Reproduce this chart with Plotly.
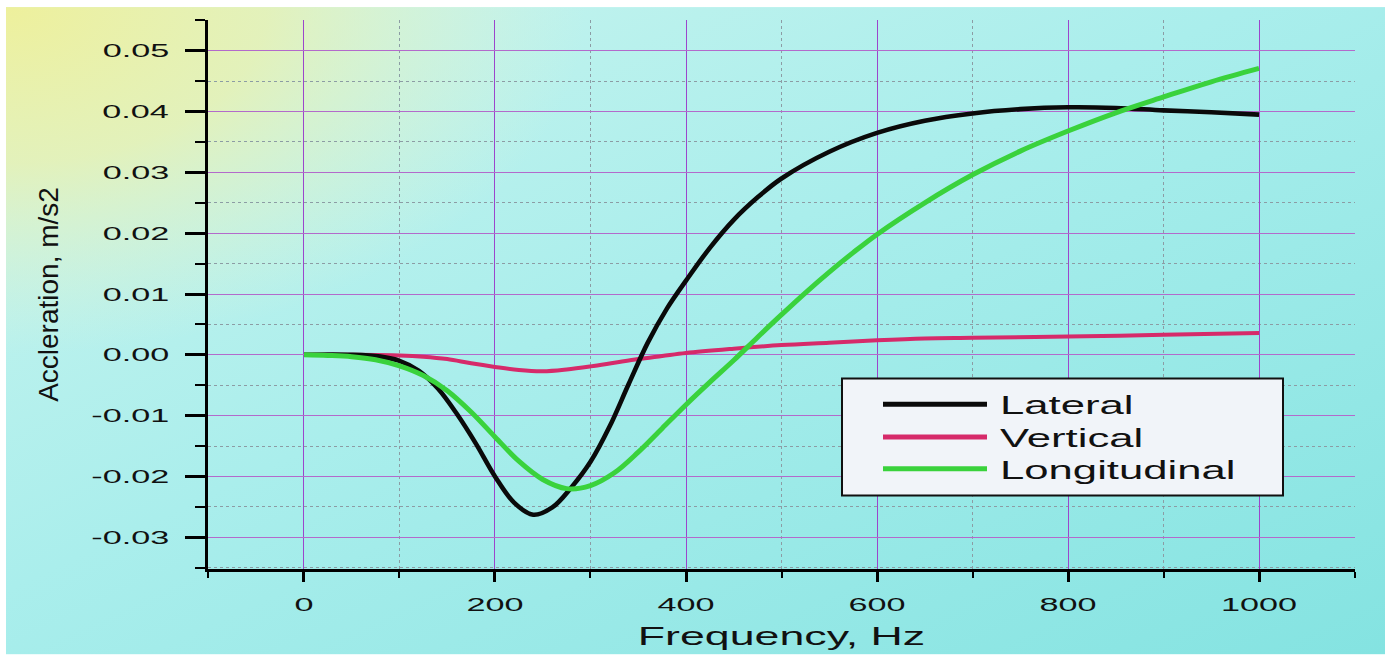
import base64
import plotly.graph_objects as go

# ---- data -------------------------------------------------------------
lateral_hz = [0, 50, 80, 100, 120, 140, 160, 180, 200, 220, 240, 260, 280, 300,
              320, 340, 360, 380, 400, 425, 450, 475, 500, 550, 600, 650, 700,
              750, 800, 850, 900, 950, 1000]
lateral_acc = [0.0, 0.0, -0.0003, -0.0010, -0.0026, -0.0055, -0.0097, -0.0146,
               -0.0200, -0.0243, -0.0263, -0.0251, -0.0218, -0.0176, -0.0118,
               -0.0048, 0.0020, 0.0076, 0.0122, 0.0176, 0.0222, 0.0259, 0.0290,
               0.0334, 0.0365, 0.0385, 0.0397, 0.0404, 0.0407, 0.0406, 0.0402,
               0.0399, 0.0395]

vertical_hz = [0, 50, 100, 125, 150, 175, 200, 225, 250, 275, 300, 325, 350,
               375, 400, 450, 500, 550, 600, 650, 700, 800, 900, 1000]
vertical_acc = [0.0, 0.0, -0.0001, -0.0003, -0.0007, -0.0014, -0.0020, -0.0025,
                -0.0027, -0.0024, -0.0019, -0.0013, -0.0007, -0.0002, 0.0003,
                0.0010, 0.0016, 0.0020, 0.0024, 0.0027, 0.0028, 0.0030, 0.0033,
                0.0036]

longitudinal_hz = [0, 25, 50, 75, 100, 125, 150, 175, 200, 225, 250, 275, 300,
                   325, 350, 375, 400, 425, 450, 475, 500, 525, 550, 575, 600,
                   650, 700, 750, 800, 850, 900, 950, 1000]
longitudinal_acc = [0.0, -0.0001, -0.0003, -0.0008, -0.0018, -0.0034, -0.0059,
                    -0.0094, -0.0135, -0.0175, -0.0205, -0.0220, -0.0215,
                    -0.0194, -0.0160, -0.0121, -0.0082, -0.0045, -0.0009,
                    0.0029, 0.0066, 0.0102, 0.0136, 0.0168, 0.0198, 0.0250,
                    0.0296, 0.0335, 0.0368, 0.0398, 0.0424, 0.0449, 0.0471]

series_names = ["Lateral", "Vertical", "Longitudinal"]
series_colors = ["#0a0a0a", "#d62a6a", "#3ad23c"]

x_tick_vals = [0, 200, 400, 600, 800, 1000]
x_tick_text = ["0", "200", "400", "600", "800", "1000"]
y_tick_vals = [-0.03, -0.02, -0.01, 0.0, 0.01, 0.02, 0.03, 0.04, 0.05]
y_tick_text = ["-0.03", "-0.02", "-0.01", "0.00", "0.01", "0.02", "0.03",
               "0.04", "0.05"]

# ---- figure geometry ---------------------------------------------------
W, H = 1385, 659
L, R, T, B = 208, 30, 20, 86
PW, PH = W - L - R, H - T - B


def px_x(p):
    return (p - L) / PW


def px_y(p):
    return (H - B - p) / PH


FONT = "Arial, 'Liberation Sans', sans-serif"

# soft yellow-to-cyan backdrop
bg_svg = """<svg xmlns="http://www.w3.org/2000/svg" width="1379" height="652"
 viewBox="0 0 1379 652" preserveAspectRatio="none">
<defs>
<linearGradient id="base" x1="0" y1="0" x2="1" y2="1">
<stop offset="0" stop-color="#cdf5ee"/>
<stop offset="0.45" stop-color="#aaeeec"/>
<stop offset="1" stop-color="#84e3e1"/>
</linearGradient>
<radialGradient id="warm" cx="0" cy="0" r="1" gradientUnits="userSpaceOnUse"
 gradientTransform="scale(580,350)">
<stop offset="0" stop-color="#eef09c" stop-opacity="1"/>
<stop offset="0.45" stop-color="#e8f1b2" stop-opacity="0.85"/>
<stop offset="1" stop-color="#dff4d6" stop-opacity="0"/>
</radialGradient>
</defs>
<rect width="1379" height="652" fill="url(#base)"/>
<rect width="1379" height="652" fill="url(#warm)"/>
</svg>"""
bg_uri = "data:image/svg+xml;base64," + base64.b64encode(bg_svg.encode()).decode()

fig = go.Figure()

traces = [
    (vertical_hz, vertical_acc, 1, 4.0),
    (lateral_hz, lateral_acc, 0, 4.6),
    (longitudinal_hz, longitudinal_acc, 2, 5.0),
]
for xs, ys, idx, width in traces:
    fig.add_trace(go.Scatter(
        x=xs, y=ys, mode="lines", name=series_names[idx],
        line=dict(color=series_colors[idx], width=width, shape="spline",
                  smoothing=1.0),
        showlegend=False,
    ))

# legend panel
leg_x0, leg_x1, leg_y0, leg_y1 = 842, 1283, 381, 499
shapes = [dict(type="rect", xref="paper", yref="paper",
               x0=px_x(leg_x0), x1=px_x(leg_x1),
               y0=px_y(leg_y1), y1=px_y(leg_y0),
               fillcolor="#f1f4f9", line=dict(color="#111111", width=2),
               layer="above")]
annotations = []
for i, row_y in enumerate([407, 440, 472]):
    shapes.append(dict(type="line", xref="paper", yref="paper",
                       x0=px_x(883), x1=px_x(987),
                       y0=px_y(row_y), y1=px_y(row_y),
                       line=dict(color=series_colors[i], width=5),
                       layer="above"))
    annotations.append(dict(xref="paper", yref="paper",
                            x=px_x(998), y=px_y(row_y + 1),
                            xanchor="left", yanchor="middle",
                            text=series_names[i], showarrow=False,
                            font=dict(family=FONT, size=26, color="#111111")))

fig.update_layout(
    width=W, height=H,
    margin=dict(l=L, r=R, t=T, b=B, pad=0),
    paper_bgcolor="white",
    plot_bgcolor="rgba(0,0,0,0)",
    showlegend=False,
    shapes=shapes,
    annotations=annotations,
    images=[dict(source=bg_uri, xref="paper", yref="paper",
                 x=px_x(6), y=px_y(7), sizex=(W - 6) / PW, sizey=(H - 7) / PH,
                 xanchor="left", yanchor="top", sizing="stretch",
                 layer="below")],
    font=dict(family=FONT, color="#111111"),
)

fig.update_xaxes(
    range=[-100.5, 1100.5],
    tickvals=x_tick_vals, ticktext=x_tick_text,
    tickfont=dict(family=FONT, size=19, color="#111111"),
    ticks="outside", ticklen=10, tickwidth=2.5, tickcolor="#000000",
    ticklabelstandoff=6,
    showline=True, linecolor="#000000", linewidth=3,
    showgrid=True, gridcolor="#9c45cc", gridwidth=1.2,
    zeroline=False,
    minor=dict(dtick=100, tick0=0, ticks="outside", ticklen=6, tickwidth=2,
               tickcolor="#000000", showgrid=True, gridcolor="#8c9ca4",
               griddash="dot", gridwidth=1),
    title=dict(text="Frequency, Hz", standoff=14,
               font=dict(family=FONT, size=26, color="#111111")),
)

fig.update_yaxes(
    range=[-0.03522, 0.05506],
    tickvals=y_tick_vals, ticktext=y_tick_text,
    tickfont=dict(family=FONT, size=19, color="#111111"),
    ticks="outside", ticklen=20, tickwidth=2.5, tickcolor="#000000",
    ticklabelstandoff=12,
    showline=True, linecolor="#000000", linewidth=3,
    showgrid=True, gridcolor="#b36acb", gridwidth=1.2,
    zeroline=False,
    minor=dict(dtick=0.005, tick0=0, ticks="outside", ticklen=10, tickwidth=2,
               tickcolor="#000000", showgrid=True, gridcolor="#8c9ca4",
               griddash="dot", gridwidth=1),
    title=dict(text="Accleration, m/s2", standoff=60,
               font=dict(family=FONT, size=28, color="#111111")),
)

# widen the lettering of tick labels, x title and legend entries
stretch_js = """
var gd = document.getElementById('{plot_id}');
function stretch(sel, k, mode) {
  gd.querySelectorAll(sel).forEach(function (t) {
    var bb = t.getBBox();
    var a = mode || t.getAttribute('text-anchor') || 'start';
    var cx = a === 'end' ? bb.x + bb.width :
             (a === 'middle' ? bb.x + bb.width / 2 : bb.x);
    var tr = t.getAttribute('transform') || '';
    t.setAttribute('transform', tr + ' translate(' + cx + ',0) scale(' + k +
                   ',1) translate(' + (-cx) + ',0)');
  });
}
stretch('.ytick text', 1.8, 'end');
stretch('.xtick text', 1.8, 'middle');
stretch('.g-xtitle text', 1.72, 'middle');
stretch('.annotation-text', 1.68, 'start');
"""

fig.write_html("out.html", post_script=stretch_js)
